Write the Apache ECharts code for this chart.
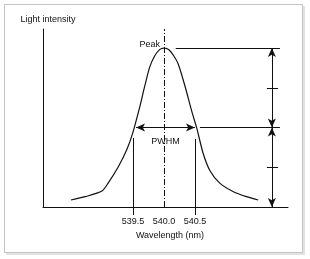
<!DOCTYPE html>
<html>
<head>
<meta charset="utf-8">
<script src="https://cdn.jsdelivr.net/npm/echarts@6/dist/echarts.min.js"></script>
<style>
  html, body { margin: 0; padding: 0; background: #fff; }
  .wrap { position: relative; width: 310px; height: 259px; }
  .frame {
    position: absolute; left: 4px; top: 4px; width: 297px; height: 247px;
    border: 1px solid #c4c4c4; box-shadow: 2px 2px 0 #e2e2e2;
  }
  #chart { position: absolute; left: 0; top: 0; width: 310px; height: 259px; }
</style>
</head>
<body>
<div class="wrap">
  <div class="frame"></div>
  <div id="chart"></div>
</div>
<script>
// 曲线数据
const waveX = [538.5, 538.73, 539.0, 539.1, 539.26, 539.4, 539.5, 539.61, 539.69, 539.77, 539.85, 539.93, 540.0,
  540.08, 540.16, 540.23, 540.34, 540.45, 540.53, 540.63, 540.74, 540.9, 541.12, 541.33, 541.52]
const intensity = [0.044, 0.065, 0.1, 0.15, 0.25, 0.36, 0.47, 0.63, 0.76, 0.88, 0.95, 0.99, 1.0,
  0.99, 0.95, 0.9, 0.76, 0.6, 0.495, 0.34, 0.23, 0.15, 0.096, 0.065, 0.044]
const tickValues = [539.5, 540.0, 540.5]
const fwhmTicks = [539.5, 540.5]
const peakWave = 540.0
const peakLevel = 1
const halfLevel = 0.5
const fwhmLeft = 539.5
const fwhmRight = 540.5
const arrowX = 541.74

const font = "'Liberation Sans', Arial, sans-serif"
const fontSize = 9
const black = '#111'

const chart = echarts.init(document.getElementById('chart'))

// markLine 的一段：两端都要给 coord
const segment = (from, to, opts) => {
  const o = opts || {}
  const sym = o.arrow ? 'arrow' : 'none'
  return [
    {
      coord: from,
      symbol: sym,
      symbolSize: [6, 9],
      lineStyle: { color: black, width: 1, type: o.dash || 'solid' },
      label: o.label || { show: false }
    },
    { coord: to, symbol: sym, symbolSize: [6, 9] }
  ]
}

const option = {
  animation: false,
  textStyle: { fontFamily: font },
  grid: { left: 43, right: 22, top: 29, bottom: 52 },
  xAxis: {
    type: 'value',
    min: 538.05,
    max: 542,
    name: 'Wavelength (nm)',
    nameLocation: 'middle',
    nameGap: 24,
    nameTextStyle: { color: black, fontSize: fontSize, fontFamily: font, padding: [0, 0, 0, 9] },
    axisLine: { lineStyle: { color: black, width: 1 } },
    axisTick: {
      show: true,
      customValues: fwhmTicks,
      length: 8,
      lineStyle: { color: black, width: 1 }
    },
    splitLine: { show: false },
    axisLabel: {
      customValues: tickValues,
      margin: 10,
      color: black,
      fontSize: fontSize,
      fontFamily: font,
      formatter: (v) => v.toFixed(1)
    }
  },
  yAxis: {
    type: 'value',
    min: 0,
    max: 1.12,
    name: '{gap|}{t|Light intensity}',
    nameLocation: 'end',
    nameGap: 5,
    nameTextStyle: {
      color: black,
      fontSize: fontSize,
      fontFamily: font,
      rich: {
        gap: { width: 10 },
        t: { color: black, fontSize: fontSize, fontFamily: font }
      }
    },
    axisLine: { show: true, lineStyle: { color: black, width: 1 } },
    axisTick: { show: false },
    axisLabel: { show: false },
    splitLine: { show: false }
  },
  series: [
    {
      type: 'line',
      data: waveX.map((x, i) => [x, intensity[i]]),
      smooth: 0.25,
      symbol: 'none',
      clip: false,
      lineStyle: { color: black, width: 1.2 },
      markLine: {
        silent: true,
        animation: false,
        label: { show: false },
        data: [
          segment([peakWave, 0], [peakWave, 1.12], { dash: [6, 2, 1, 2] }),
          segment([fwhmLeft, 0], [fwhmLeft, 0.434]),
          segment([fwhmRight, 0], [fwhmRight, 0.428]),
          segment([540.19, peakLevel], [541.87, peakLevel]),
          segment([540.58, halfLevel], [541.87, halfLevel]),
          segment([541.66, 0.75], [541.84, 0.75]),
          segment([541.66, 0.25], [541.84, 0.25]),
          segment([539.55, halfLevel], [fwhmRight, halfLevel], {
            arrow: true,
            label: {
              show: true,
              formatter: 'PWHM',
              position: 'insideMiddleBottom',
              distance: 9,
              color: black,
              fontSize: fontSize,
              fontFamily: font
            }
          }),
          segment([arrowX, peakLevel], [arrowX, halfLevel], { arrow: true }),
          segment([arrowX, halfLevel], [arrowX, 0], { arrow: true })
        ]
      },
      markPoint: {
        silent: true,
        symbol: 'circle',
        symbolSize: 0,
        data: [{
          coord: [peakWave, peakLevel],
          label: {
            show: true,
            formatter: 'Peak',
            position: 'left',
            distance: 4,
            offset: [0, -4],
            color: black,
            fontSize: fontSize,
            fontFamily: font
          }
        }]
      }
    }
  ]
}

chart.setOption(option)
</script>
</body>
</html>
